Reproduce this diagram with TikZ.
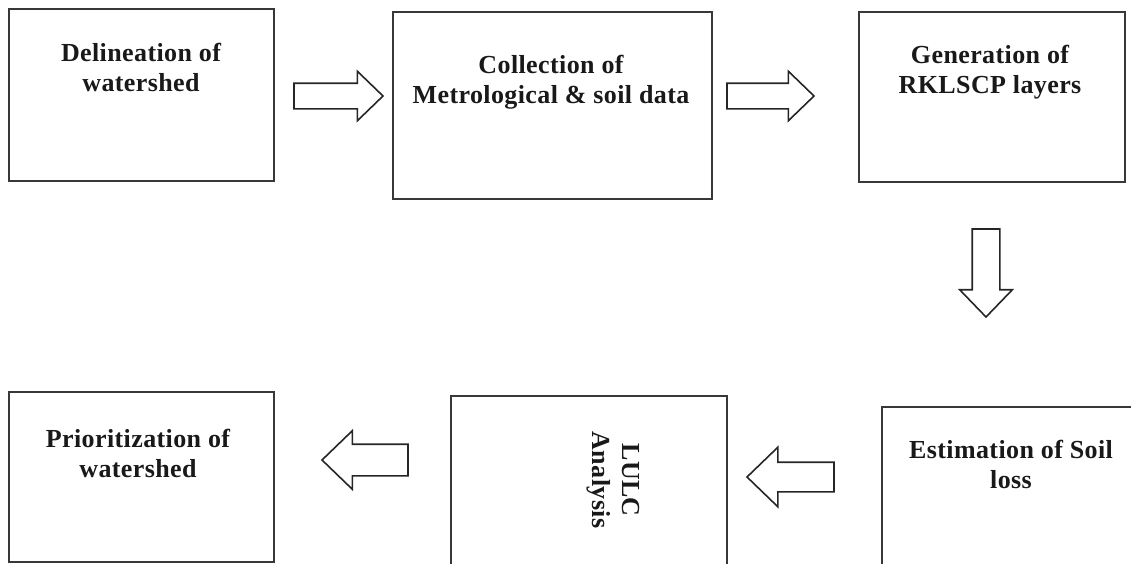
\documentclass[tikz,border=0pt]{standalone}
\usepackage{fontspec}
\setmainfont{Liberation Serif}
\usetikzlibrary{shapes.arrows}
\begin{document}
\begin{tikzpicture}[x=1pt,y=-1pt,
  box/.style={draw=black!78, line width=2.2pt, rectangle, inner sep=0pt, outer sep=0pt},
  lbl/.style={font=\fontsize{26}{30}\selectfont\bfseries\addfontfeatures{LetterSpace=1.5}, align=center, inner sep=0pt, anchor=north, text=black!90},
  blockarrow/.style={single arrow, draw=black!85, line width=1.6pt, fill=white,
    inner xsep=0pt, text height=0pt, text depth=0pt, outer sep=0pt,
    single arrow tip angle=88, anchor=tip}]
\useasboundingbox (0,0) rectangle (1131,563);
\clip (0,0) rectangle (1131,563);

% boxes
\node[box, minimum width=265pt, minimum height=172pt] (b1) at (141.5,95) {};
\node[box, minimum width=319pt, minimum height=187pt] (b2) at (552.5,105.5) {};
\node[box, minimum width=266pt, minimum height=170pt] (b3) at (992,97) {};
\node[box, minimum width=268pt, minimum height=173pt] (b4) at (1016,493.5) {};
\node[box, minimum width=276pt, minimum height=184pt] (b5) at (589,488) {};
\node[box, minimum width=265pt, minimum height=170pt] (b6) at (141.5,477) {};

% labels
\node[lbl] (t1) at (141,43) {Delineation of\\watershed};
\node[lbl] (t2) at (551,55) {Collection of\\Metrological \& soil data};
\node[lbl] (t3) at (990,45) {Generation of\\RKLSCP layers};
\node[lbl] (t4) at (1011,440) {Estimation of Soil\\loss};
\node[lbl, rotate=-90] (t5) at (640,480) {LULC\\Analysis};
\node[lbl] (t6) at (138,429) {Prioritization of\\watershed};

% block arrows
\node[blockarrow, minimum height=89pt, inner ysep=12pt, single arrow head extend=12pt] (a1) at (383,96) {};
\node[blockarrow, minimum height=87pt, inner ysep=12pt, single arrow head extend=12pt] (a2) at (814,96) {};
\node[blockarrow, rotate=-90, minimum height=88pt, inner ysep=13pt, single arrow head extend=12.5pt] (a3) at (986,317) {};
\node[blockarrow, rotate=180, minimum height=87pt, inner ysep=14pt, single arrow head extend=15pt] (a4) at (747,477) {};
\node[blockarrow, rotate=180, minimum height=86pt, inner ysep=15pt, single arrow head extend=13.5pt] (a5) at (322,460) {};
\end{tikzpicture}
\end{document}
